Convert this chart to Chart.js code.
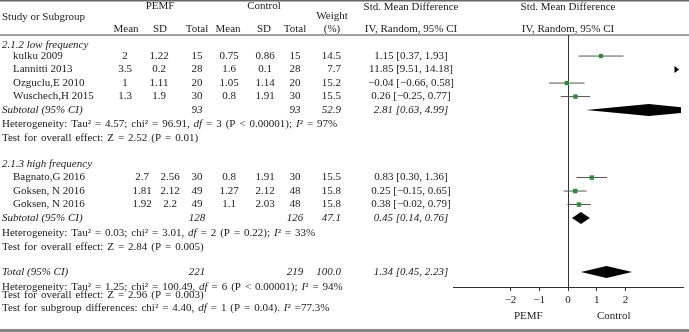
<!DOCTYPE html>
<html><head><meta charset="utf-8">
<script src="https://cdn.jsdelivr.net/npm/chart.js@4"></script>
<style>html,body{margin:0;padding:0;background:#fff;}canvas{display:block}</style>
</head><body>
<canvas id="c" width="689" height="332"></canvas>
<script>
// ---- data ----
const studies   = ['kulku 2009','Lannitti 2013','Ozguclu,E 2010','Wuschech,H 2015','Bagnato,G 2016','Goksen, N 2016','Goksen, N 2016'];
const studyGroup= [0,0,0,0,1,1,1];
const studyRow  = [1,2,3,4,10,11,12];
const pemfMean  = [2,3.5,1,1.3,2.7,1.81,1.92];
const pemfSD    = [1.22,0.2,1.11,1.9,2.56,2.12,2.2];
const pemfN     = [15,28,20,30,30,49,49];
const ctrlMean  = [0.75,1.6,1.05,0.8,0.8,1.27,1.1];
const ctrlSD    = [0.86,0.1,1.14,1.91,1.91,2.12,2.03];
const ctrlN     = [15,28,20,30,30,48,48];
const weights   = [14.5,7.7,15.2,15.5,15.5,15.8,15.8];
const smd       = [1.15,11.85,-0.04,0.26,0.83,0.25,0.38];
const smdLo     = [0.37,9.51,-0.66,-0.25,0.30,-0.15,-0.02];
const smdHi     = [1.93,14.18,0.58,0.77,1.36,0.65,0.79];

const groupNames  = ['2.1.2 low frequency','2.1.3 high frequency'];
const groupRow    = [0.2,9.0];
const subRow      = [5,13];
const subPemfN    = [93,128];
const subCtrlN    = [93,126];
const subWeight   = [52.9,47.1];
const subEst      = [2.81,0.45];
const subLo       = [0.63,0.14];
const subHi       = [4.99,0.76];
const subTau2     = [4.57,0.03];
const subChi2     = [96.91,3.01];
const subDf       = [3,2];
const subP        = ['< 0.00001','= 0.22'];
const subI2       = ['97%','33%'];
const subZ        = [2.52,2.84];
const subZP       = ['0.01','0.005'];
const hetRow      = [6.05,14.1];
const testRow     = [7.05,15.12];

const totRow = 17, totPemfN = 221, totCtrlN = 219, totWeight = 100.0;
const totEst = 1.34, totLo = 0.45, totHi = 2.23;
const totTau2 = 1.25, totChi2 = 100.49, totDf = 6, totP = '< 0.00001', totI2 = '94%';
const totZ = 2.96, totZP = '0.003';
const totHetRow = 18.1, totTestRow = 18.68, sgRow = 19.65;
const sgChi2 = 4.40, sgDf = 1, sgP = '= 0.04', sgI2 = '77.3%';

const xTicks = [-2,-1,0,1,2];
const xMin = -4, xMax = 4;

// ---- layout (style) ----
const FONT = '"Liberation Serif", "Times New Roman", serif';
const FS = 11;
const TXT = '#1a1a1a';
const SPACE_EXTRA = 1.2;
const meanX = [125,142], sdX = [159,170];
const nX = 197, cMeanX = 229, cSdX = 265, cNX = 295, wX = 341, smdX = 411;

const fmt = v => String(v).replace(/-/g,'\u2212');
const f2 = v => fmt(v.toFixed(2));

const tablePlugin = {
  id:'table',
  beforeDatasetsDraw(chart){
    const {ctx, chartArea:a, scales:{x}} = chart;
    const x0 = Math.round(x.getPixelForValue(0))+0.5;
    ctx.save();
    ctx.strokeStyle = '#333'; ctx.lineWidth = 1;
    ctx.beginPath(); ctx.moveTo(x0,a.top); ctx.lineTo(x0,a.bottom); ctx.stroke();
    ctx.restore();
  },
  afterDatasetsDraw(chart){
    const {ctx, chartArea:a, scales:{x,y}} = chart;
    ctx.save();
    ctx.beginPath(); ctx.rect(a.left,a.top-8,a.right-a.left-2,a.bottom-a.top+8); ctx.clip();
    ctx.fillStyle = '#000';
    const dia = (est,lo,hi,row)=>{
      const py = y.getPixelForValue(row), h = 6;
      ctx.beginPath();
      ctx.moveTo(x.getPixelForValue(lo),py);
      ctx.lineTo(x.getPixelForValue(est),py-h);
      ctx.lineTo(x.getPixelForValue(hi),py);
      ctx.lineTo(x.getPixelForValue(est),py+h);
      ctx.closePath(); ctx.fill();
    };
    subEst.forEach((e,i)=>dia(e,subLo[i],subHi[i],subRow[i]));
    dia(totEst,totLo,totHi,totRow);
    ctx.restore();
    // arrows for off-scale CIs
    ctx.save(); ctx.fillStyle='#000';
    smdLo.forEach((lo,i)=>{
      if (lo > xMax){
        const py = y.getPixelForValue(studyRow[i]), r = a.right-4;
        ctx.beginPath(); ctx.moveTo(r-4.5,py-3.5); ctx.lineTo(r,py); ctx.lineTo(r-4.5,py+3.5); ctx.closePath(); ctx.fill();
      }
    });
    ctx.restore();
  },
  afterDraw(chart){
    const {ctx, scales:{y}} = chart;
    const Y = r => y.getPixelForValue(r);
    ctx.save();
    ctx.textBaseline = 'middle';
    const t = (s,px,py,align='center',it=false)=>{
      ctx.font = (it?'italic ':'')+FS+'px '+FONT;
      ctx.fillStyle = TXT; ctx.textAlign = align;
      ctx.fillText(s,px,py);
    };
    const rich = (segs,px,py)=>{
      ctx.textAlign='left'; ctx.fillStyle=TXT;
      let cx = px;
      segs.forEach(([s,it])=>{
        ctx.font = (it?'italic ':'')+FS+'px '+FONT;
        const sp = ctx.measureText(' ').width + SPACE_EXTRA;
        const parts = s.split(' ');
        parts.forEach((w,k)=>{
          if (k>0) cx += sp;
          if (w){ ctx.fillText(w,cx,py); cx += ctx.measureText(w).width; }
        });
      });
    };
    // rules
    ctx.fillStyle='#666'; ctx.fillRect(0,0,689,1.5);
    ctx.fillStyle='#444'; ctx.fillRect(0,34.5,689,1);
    ctx.fillStyle='#888'; ctx.fillRect(0,329,689,3);
    // header
    t('Study or Subgroup',2,17,'left');
    t('PEMF',160,6); t('Control',264,6);
    t('Weight',332,16); t('(%)',332,29);
    t('Mean',126,29); t('SD',160,29); t('Total',197,29);
    t('Mean',228,29); t('SD',264,29); t('Total',295,29);
    t('Std. Mean Difference',411,7); t('IV, Random, 95% CI',411,29);
    t('Std. Mean Difference',568,7); t('IV, Random, 95% CI',568,29);
    // groups
    groupNames.forEach((g,gi)=>{
      t(g,2,Y(groupRow[gi]),'left',true);
      const r = Y(subRow[gi]);
      t('Subtotal (95% CI)',2,r,'left',true);
      t(String(subPemfN[gi]),nX,r,'center',true);
      t(String(subCtrlN[gi]),cNX,r,'center',true);
      t(subWeight[gi].toFixed(1),wX,r,'right',true);
      t(`${f2(subEst[gi])} [${f2(subLo[gi])}, ${f2(subHi[gi])}]`,smdX,r,'center',true);
      rich([[`Heterogeneity: Tau\u00b2 = ${subTau2[gi].toFixed(2)}; chi\u00b2 = ${subChi2[gi].toFixed(2)}, `],['df',true],[` = ${subDf[gi]} (P ${subP[gi]}); `],['I',true],[`\u00b2 = ${subI2[gi]}`]],2,Y(hetRow[gi]));
      rich([[`Test for overall effect: Z = ${subZ[gi].toFixed(2)} (P = ${subZP[gi]})`]],2,Y(testRow[gi]));
    });
    // studies
    studies.forEach((s,i)=>{
      const r = Y(studyRow[i]), g = studyGroup[i];
      t(s,13,r,'left');
      t(fmt(pemfMean[i]),meanX[g],r); t(fmt(pemfSD[i]),sdX[g],r); t(String(pemfN[i]),nX,r);
      t(fmt(ctrlMean[i]),cMeanX,r); t(fmt(ctrlSD[i]),cSdX,r); t(String(ctrlN[i]),cNX,r);
      t(weights[i].toFixed(1),wX,r,'right');
      t(`${f2(smd[i])} [${f2(smdLo[i])}, ${f2(smdHi[i])}]`,smdX,r);
    });
    // total
    const tr = Y(totRow);
    t('Total (95% CI)',2,tr,'left',true);
    t(String(totPemfN),nX,tr,'center',true);
    t(String(totCtrlN),cNX,tr,'center',true);
    t(totWeight.toFixed(1),wX,tr,'right',true);
    t(`${f2(totEst)} [${f2(totLo)}, ${f2(totHi)}]`,smdX,tr,'center',true);
    rich([[`Heterogeneity: Tau\u00b2 = ${totTau2.toFixed(2)}; chi\u00b2 = ${totChi2.toFixed(2)}, `],['df',true],[` = ${totDf} (P ${totP}); `],['I',true],[`\u00b2 = ${totI2}`]],2,Y(totHetRow));
    rich([[`Test for overall effect: Z = ${totZ.toFixed(2)} (P = ${totZP})`]],2,Y(totTestRow));
    rich([[`Test for subgroup differences: chi\u00b2 = ${sgChi2.toFixed(2)}, `],['df',true],[` = ${sgDf} (P ${sgP}). `],['I',true],[`\u00b2 =${sgI2}`]],2,Y(sgRow));
    // axis side labels
    const xs = chart.scales.x;
    t('PEMF',xs.getPixelForValue(-1.38),316);
    t('Control',xs.getPixelForValue(1.59),316);
    ctx.restore();
  }
};

const ciData = [];
studies.forEach((s,i)=>{
  ciData.push({x:smdLo[i],y:studyRow[i]},{x:smdHi[i],y:studyRow[i]},{x:smdHi[i],y:null});
});

new Chart(document.getElementById('c'),{
  type:'scatter',
  data:{datasets:[
    {label:'SMD', data:smd.map((v,i)=>({x:v,y:studyRow[i]})), pointStyle:'rect',
     pointRadius:weights.map(w=>w*0.2), backgroundColor:'#2e8b3c', borderWidth:0, order:0},
    {label:'CI', data:ciData, showLine:true, spanGaps:false, borderColor:'#555', borderWidth:1, pointRadius:0, order:1}
  ]},
  options:{
    responsive:false, animation:false,
    layout:{padding:{left:453,right:6,top:35,bottom:0}},
    plugins:{legend:{display:false},tooltip:{enabled:false}},
    scales:{
      x:{type:'linear',min:xMin,max:xMax,
         afterBuildTicks:s=>{s.ticks = xTicks.map(v=>({value:v}));},
         afterFit:s=>{s.height = 45;},
         grid:{drawOnChartArea:false,drawTicks:true,tickLength:4,color:'#333'},
         border:{color:'#333',width:1},
         ticks:{color:TXT,font:{family:FONT,size:11},padding:3,maxRotation:0,autoSkip:false,callback:v=>fmt(v)}},
      y:{type:'linear',reverse:true,min:-0.56,max:18.11,display:false}
    }
  },
  plugins:[tablePlugin]
});
</script>
</body></html>
